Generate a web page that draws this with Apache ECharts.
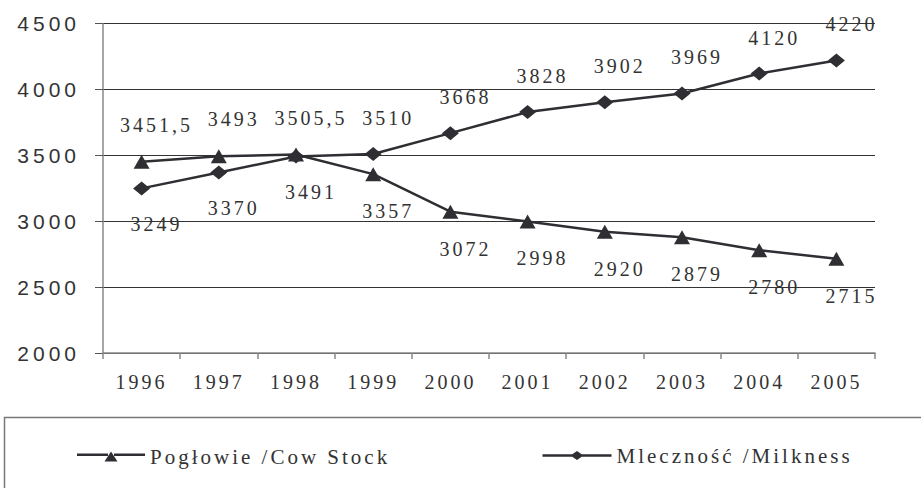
<!DOCTYPE html>
<html>
<head>
<meta charset="utf-8">
<script src="https://cdn.jsdelivr.net/npm/echarts@6/dist/echarts.min.js"></script>
<style>
html, body { margin: 0; padding: 0; background: #fff; }
#main { width: 921px; height: 488px; }
/* Excel-like spaced lettering */
#main text { letter-spacing: 3px; }
#main text[style*="Sans"] { letter-spacing: 4px; }
</style>
</head>
<body>
<div id="main"></div>
<script>
// dane
var years = ['1996', '1997', '1998', '1999', '2000', '2001', '2002', '2003', '2004', '2005'];
var cowStock = [3451.5, 3493, 3505.5, 3357, 3072, 2998, 2920, 2879, 2780, 2715];
var milkness = [3249, 3370, 3491, 3510, 3668, 3828, 3902, 3969, 4120, 4220];
var cowName = 'Pogłowie /Cow Stock';
var milkName = 'Mleczność /Milkness';

// gdzie stoi etykieta przy punkcie
var cowLabelPos = ['top', 'top', 'top', 'bottom', 'bottom', 'bottom', 'bottom', 'bottom', 'bottom', 'bottom'];
var milkLabelPos = ['bottom', 'bottom', 'bottom', 'top', 'top', 'top', 'top', 'top', 'top', 'top'];

var serif = '"Liberation Serif", "Times New Roman", serif';
var sans = '"Liberation Sans", Arial, sans-serif';
var dark = '#2e2e33';

// ikonki legendy jak w Excelu: kreska - znacznik - kreska
var triIcon = 'path://M0 2L31 2L31 4.4L0 4.4Z M37 2L68 2L68 4.4L37 4.4Z M27.5 10L34 0L40.5 10Z';
var diaIcon = 'path://M0 3.3L30 3.3L30 5.7L0 5.7Z M39 3.3L69 3.3L69 5.7L39 5.7Z M28 4.5L34.5 0L41 4.5L34.5 9Z';

function fmt(v){
	return String(v).replace('.', ',');
}

function buildData(values, pos){
	var out = [];
	for(var i=0;i<values.length;i++){
		out.push({
			value: values[i],
			label: { position: pos[i] }
		});
	}
	return out;
}

var chart = echarts.init(document.getElementById('main'), null, { renderer: 'svg' });

var legendText = { fontFamily: serif, fontSize: 21, color: '#333' };

var option = {
	backgroundColor: '#fff',
	animation: false,
	grid: {
		left: 103,
		right: 46,
		top: 23.5,
		bottom: 135
	},
	legend: [
		{
			data: [{ name: cowName, icon: triIcon }],
			left: 77,
			top: 446,
			padding: 0,
			itemWidth: 68,
			itemHeight: 10,
			textStyle: legendText
		},
		{
			data: [{ name: milkName, icon: diaIcon }],
			left: 542.5,
			top: 445,
			padding: 0,
			itemWidth: 69,
			itemHeight: 9,
			textStyle: legendText
		}
	],
	graphic: [
		{
			// ramka legendy, prawy i dolny brzeg poza obrazkiem
			type: 'polyline',
			shape: { points: [[930, 417.5], [4.5, 417.5], [4.5, 495]] },
			style: { fill: null, stroke: '#777', lineWidth: 1.5 },
			silent: true
		}
	],
	xAxis: {
		type: 'category',
		data: years,
		boundaryGap: true,
		axisLine: { lineStyle: { color: '#888', width: 1.5 } },
		axisTick: { show: true, length: 6, lineStyle: { color: '#888', width: 1.5 } },
		axisLabel: {
			margin: 19,
			fontFamily: serif,
			fontSize: 20,
			color: '#333'
		}
	},
	yAxis: {
		type: 'value',
		min: 2000,
		max: 4500,
		interval: 500,
		axisLine: { show: true, lineStyle: { color: '#888', width: 1.5 } },
		axisTick: { show: true, length: 8, lineStyle: { color: '#555' } },
		axisLabel: {
			margin: 23,
			fontFamily: sans,
			fontSize: 21,
			color: '#333',
			formatter: function(v){ return String(v); }
		},
		splitLine: { lineStyle: { color: '#333', width: 1 } }
	},
	series: [
		{
			name: cowName,
			type: 'line',
			data: buildData(cowStock, cowLabelPos),
			symbol: 'triangle',
			symbolSize: [16, 14],
			lineStyle: { color: dark, width: 2.5 },
			itemStyle: { color: dark },
			label: {
				show: true,
				distance: 20,
				offset: [15, 0],
				fontFamily: serif,
				fontSize: 20,
				color: '#333',
				formatter: function(p){ return fmt(p.value); }
			}
		},
		{
			name: milkName,
			type: 'line',
			data: buildData(milkness, milkLabelPos),
			symbol: 'diamond',
			symbolSize: [17, 14],
			lineStyle: { color: dark, width: 2.5 },
			itemStyle: { color: dark },
			label: {
				show: true,
				distance: 19,
				offset: [15, 0],
				fontFamily: serif,
				fontSize: 20,
				color: '#333',
				formatter: function(p){ return fmt(p.value); }
			}
		}
	]
};

chart.setOption(option);
</script>
</body>
</html>
